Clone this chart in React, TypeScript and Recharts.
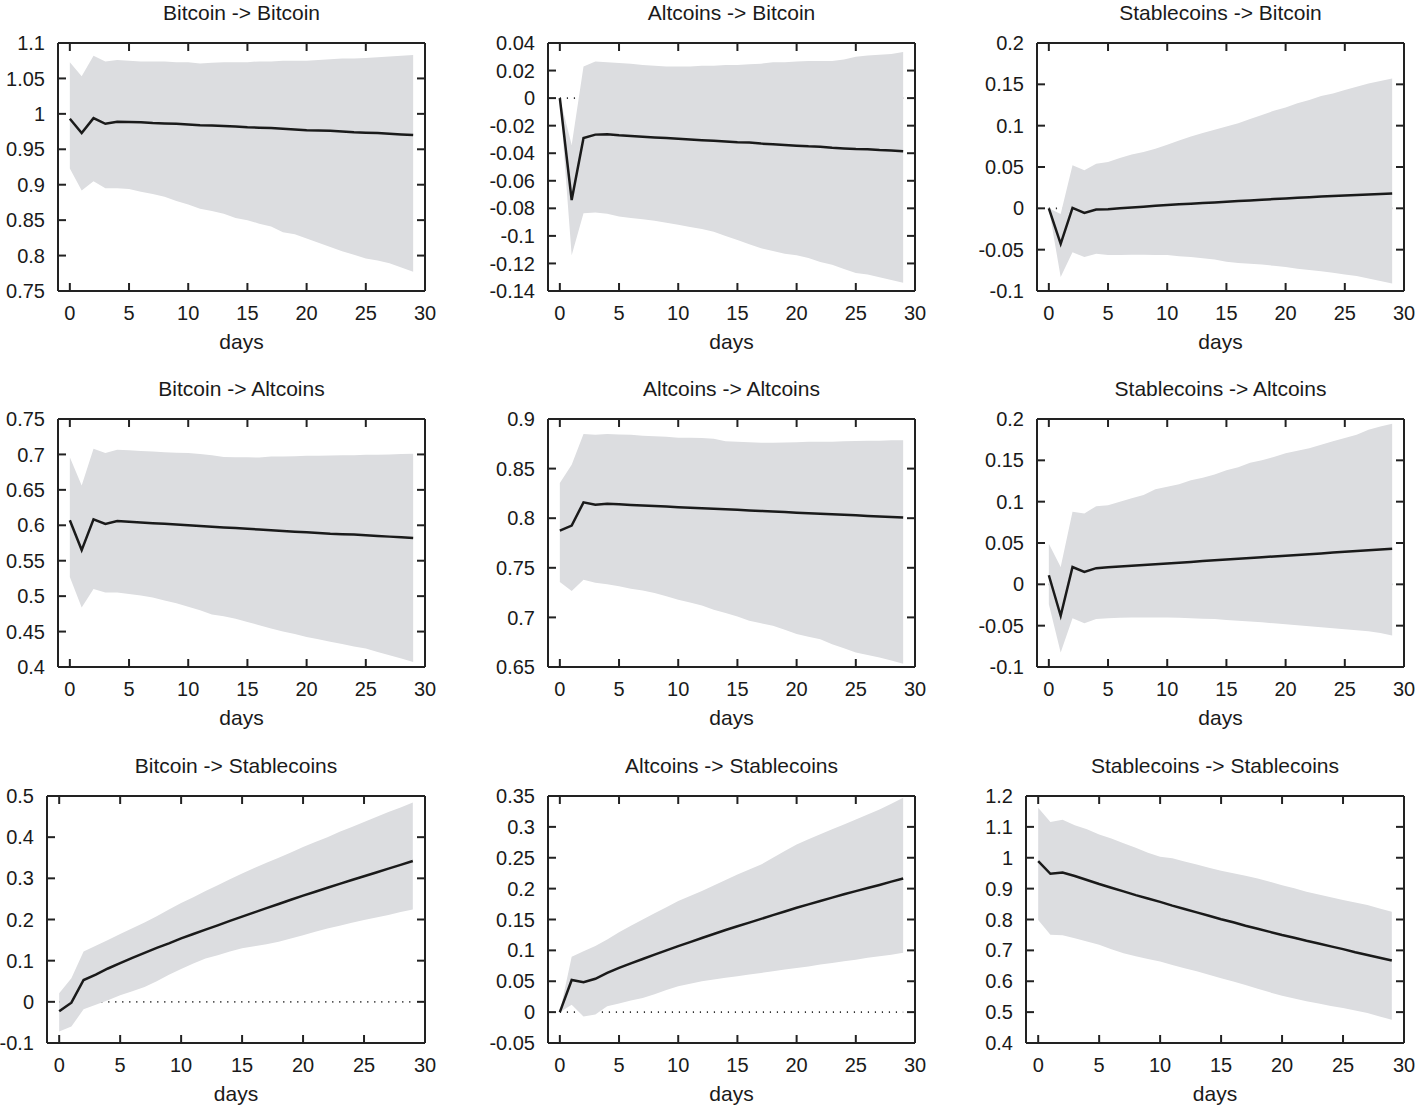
import { Area, ComposedChart, Line, XAxis, YAxis } from "recharts";

const days = [0, 1, 2, 3, 4, 5, 6, 7, 8, 9, 10, 11, 12, 13, 14, 15, 16, 17, 18, 19, 20, 21, 22, 23, 24, 25, 26, 27, 28, 29];
const dayTicks = [0, 5, 10, 15, 20, 25, 30];

// Bitcoin -> Bitcoin
const btcBtcMid = [0.993, 0.973, 0.994, 0.986, 0.989, 0.9885, 0.988, 0.987, 0.9865, 0.986, 0.985, 0.984, 0.9835, 0.983, 0.982, 0.981, 0.9805, 0.98, 0.979, 0.978, 0.977, 0.9765, 0.976, 0.975, 0.974, 0.9735, 0.973, 0.972, 0.971, 0.97];
const btcBtcHi = [1.073, 1.053, 1.082, 1.074, 1.076, 1.075, 1.074, 1.074, 1.074, 1.073, 1.073, 1.071, 1.072, 1.073, 1.073, 1.073, 1.074, 1.074, 1.075, 1.075, 1.075, 1.076, 1.077, 1.078, 1.078, 1.079, 1.08, 1.081, 1.082, 1.083];
const btcBtcLo = [0.923, 0.892, 0.905, 0.895, 0.895, 0.894, 0.89, 0.887, 0.883, 0.877, 0.872, 0.866, 0.863, 0.859, 0.853, 0.85, 0.845, 0.841, 0.833, 0.83, 0.824, 0.818, 0.812, 0.806, 0.801, 0.796, 0.793, 0.789, 0.783, 0.777];
const btcBtcTicks = [0.75, 0.8, 0.85, 0.9, 0.95, 1, 1.05, 1.1];

// Altcoins -> Bitcoin
const altBtcMid = [0, -0.074, -0.029, -0.0265, -0.0263, -0.027, -0.0275, -0.028, -0.0285, -0.029, -0.0295, -0.03, -0.0305, -0.031, -0.0315, -0.032, -0.0323, -0.033, -0.0335, -0.034, -0.0345, -0.035, -0.0353, -0.036, -0.0365, -0.037, -0.0372, -0.0377, -0.038, -0.0385];
const altBtcHi = [0, -0.034, 0.023, 0.0265, 0.026, 0.0255, 0.025, 0.024, 0.0235, 0.023, 0.023, 0.023, 0.0235, 0.0235, 0.024, 0.024, 0.0245, 0.025, 0.026, 0.026, 0.0265, 0.027, 0.027, 0.027, 0.028, 0.03, 0.031, 0.0315, 0.032, 0.0335];
const altBtcLo = [0, -0.114, -0.0835, -0.083, -0.084, -0.086, -0.087, -0.088, -0.089, -0.0905, -0.092, -0.0935, -0.095, -0.097, -0.1, -0.103, -0.106, -0.109, -0.111, -0.113, -0.114, -0.116, -0.119, -0.121, -0.124, -0.127, -0.128, -0.13, -0.132, -0.134];
const altBtcTicks = [-0.14, -0.12, -0.1, -0.08, -0.06, -0.04, -0.02, 0, 0.02, 0.04];

// Stablecoins -> Bitcoin
const stbBtcMid = [0, -0.043, 0.0005, -0.0055, -0.0015, -0.001, 0, 0.001, 0.002, 0.003, 0.004, 0.0048, 0.0056, 0.0064, 0.0072, 0.008, 0.0088, 0.0096, 0.0104, 0.0112, 0.012, 0.0128, 0.0135, 0.0142, 0.0149, 0.0156, 0.0162, 0.0168, 0.0174, 0.018];
const stbBtcHi = [0, -0.007, 0.052, 0.046, 0.054, 0.056, 0.061, 0.065, 0.068, 0.072, 0.077, 0.082, 0.087, 0.091, 0.095, 0.099, 0.103, 0.108, 0.113, 0.118, 0.122, 0.127, 0.131, 0.136, 0.139, 0.143, 0.147, 0.151, 0.154, 0.157];
const stbBtcLo = [0, -0.083, -0.053, -0.059, -0.055, -0.0565, -0.0565, -0.056, -0.056, -0.0565, -0.0565, -0.058, -0.059, -0.0605, -0.062, -0.0645, -0.066, -0.067, -0.068, -0.0695, -0.071, -0.073, -0.0745, -0.076, -0.078, -0.08, -0.082, -0.085, -0.088, -0.091];
const stbBtcTicks = [-0.1, -0.05, 0, 0.05, 0.1, 0.15, 0.2];

// Bitcoin -> Altcoins
const btcAltMid = [0.607, 0.565, 0.6085, 0.602, 0.606, 0.605, 0.604, 0.603, 0.602, 0.601, 0.6, 0.599, 0.598, 0.597, 0.596, 0.595, 0.594, 0.593, 0.592, 0.591, 0.59, 0.589, 0.588, 0.5875, 0.587, 0.586, 0.585, 0.584, 0.583, 0.582];
const btcAltHi = [0.696, 0.656, 0.708, 0.702, 0.7065, 0.706, 0.705, 0.704, 0.703, 0.7025, 0.702, 0.7005, 0.699, 0.6965, 0.696, 0.696, 0.6955, 0.697, 0.697, 0.6975, 0.698, 0.698, 0.6985, 0.699, 0.699, 0.6995, 0.6995, 0.7, 0.7005, 0.701];
const btcAltLo = [0.527, 0.484, 0.51, 0.505, 0.505, 0.503, 0.501, 0.498, 0.494, 0.49, 0.485, 0.48, 0.474, 0.4715, 0.468, 0.4635, 0.459, 0.4545, 0.45, 0.4465, 0.4425, 0.439, 0.4355, 0.4325, 0.429, 0.426, 0.421, 0.4165, 0.412, 0.407];
const btcAltTicks = [0.4, 0.45, 0.5, 0.55, 0.6, 0.65, 0.7, 0.75];

// Altcoins -> Altcoins
const altAltMid = [0.7875, 0.7925, 0.816, 0.8135, 0.8145, 0.814, 0.8134, 0.8128, 0.8122, 0.8117, 0.8111, 0.8106, 0.81, 0.8095, 0.8089, 0.8084, 0.8078, 0.8073, 0.8067, 0.8062, 0.8056, 0.8051, 0.8045, 0.804, 0.8034, 0.8029, 0.8023, 0.8018, 0.8012, 0.8007];
const altAltHi = [0.8355, 0.854, 0.885, 0.884, 0.885, 0.8845, 0.884, 0.883, 0.8825, 0.882, 0.881, 0.8812, 0.8808, 0.88, 0.8775, 0.877, 0.8765, 0.876, 0.876, 0.8762, 0.8765, 0.877, 0.877, 0.877, 0.8775, 0.8777, 0.878, 0.878, 0.8785, 0.8787];
const altAltLo = [0.7357, 0.7266, 0.738, 0.735, 0.7333, 0.7313, 0.729, 0.727, 0.7245, 0.7213, 0.7177, 0.715, 0.712, 0.7076, 0.7045, 0.701, 0.6967, 0.694, 0.6917, 0.6875, 0.6832, 0.6805, 0.678, 0.673, 0.6688, 0.6646, 0.662, 0.6595, 0.6565, 0.6534];
const altAltTicks = [0.65, 0.7, 0.75, 0.8, 0.85, 0.9];

// Stablecoins -> Altcoins
const stbAltMid = [0.011, -0.038, 0.021, 0.015, 0.0196, 0.0206, 0.0215, 0.0224, 0.0234, 0.0243, 0.0253, 0.0262, 0.0271, 0.0281, 0.029, 0.03, 0.0309, 0.0318, 0.0328, 0.0337, 0.0346, 0.0356, 0.0365, 0.0374, 0.0384, 0.0393, 0.0402, 0.0412, 0.0421, 0.0431];
const stbAltHi = [0.049, 0.021, 0.0877, 0.0857, 0.0946, 0.0958, 0.0999, 0.104, 0.108, 0.115, 0.118, 0.121, 0.126, 0.129, 0.133, 0.138, 0.1416, 0.147, 0.15, 0.154, 0.1587, 0.1615, 0.1647, 0.169, 0.173, 0.177, 0.181, 0.187, 0.191, 0.1943];
const stbAltLo = [-0.024, -0.0825, -0.041, -0.047, -0.042, -0.041, -0.0405, -0.04, -0.04, -0.04, -0.04, -0.0405, -0.041, -0.0415, -0.042, -0.043, -0.044, -0.045, -0.046, -0.0472, -0.0484, -0.0496, -0.0508, -0.052, -0.0532, -0.0544, -0.0556, -0.0568, -0.059, -0.062];
const stbAltTicks = [-0.1, -0.05, 0, 0.05, 0.1, 0.15, 0.2];

// Bitcoin -> Stablecoins
const btcStbMid = [-0.023, -0.002, 0.053, 0.066, 0.081, 0.094, 0.107, 0.119, 0.131, 0.142, 0.154, 0.1647, 0.1753, 0.1859, 0.1965, 0.207, 0.2173, 0.2275, 0.2377, 0.2479, 0.258, 0.2675, 0.277, 0.2865, 0.296, 0.305, 0.3143, 0.3235, 0.3328, 0.342];
const btcStbHi = [0.021, 0.057, 0.122, 0.136, 0.15, 0.165, 0.179, 0.193, 0.208, 0.224, 0.24, 0.254, 0.269, 0.283, 0.298, 0.312, 0.325, 0.338, 0.35, 0.363, 0.376, 0.388, 0.4, 0.413, 0.425, 0.437, 0.449, 0.461, 0.472, 0.484];
const btcStbLo = [-0.072, -0.06, -0.018, -0.007, 0.004, 0.016, 0.026, 0.036, 0.05, 0.066, 0.08, 0.093, 0.105, 0.113, 0.122, 0.13, 0.135, 0.14, 0.146, 0.154, 0.162, 0.17, 0.178, 0.185, 0.192, 0.199, 0.205, 0.211, 0.218, 0.2245];
const btcStbTicks = [-0.1, 0, 0.1, 0.2, 0.3, 0.4, 0.5];

// Altcoins -> Stablecoins
const altStbMid = [0, 0.052, 0.0485, 0.054, 0.0635, 0.0716, 0.079, 0.086, 0.093, 0.1, 0.1068, 0.1134, 0.12, 0.1265, 0.133, 0.139, 0.145, 0.151, 0.157, 0.163, 0.169, 0.1745, 0.18, 0.1855, 0.191, 0.196, 0.201, 0.206, 0.2113, 0.2165];
const altStbHi = [0, 0.0895, 0.0985, 0.107, 0.1175, 0.1295, 0.14, 0.15, 0.16, 0.17, 0.18, 0.188, 0.196, 0.205, 0.214, 0.223, 0.231, 0.239, 0.25, 0.261, 0.2716, 0.28, 0.288, 0.296, 0.304, 0.312, 0.32, 0.328, 0.3375, 0.347];
const altStbLo = [0, 0.012, -0.007, -0.004, 0.0095, 0.014, 0.019, 0.023, 0.029, 0.036, 0.042, 0.046, 0.05, 0.053, 0.0555, 0.058, 0.061, 0.0635, 0.066, 0.069, 0.0716, 0.074, 0.077, 0.0797, 0.0823, 0.085, 0.088, 0.0905, 0.093, 0.096];
const altStbTicks = [-0.05, 0, 0.05, 0.1, 0.15, 0.2, 0.25, 0.3, 0.35];

// Stablecoins -> Stablecoins
const stbStbMid = [0.989, 0.948, 0.952, 0.941, 0.928, 0.915, 0.903, 0.891, 0.879, 0.868, 0.857, 0.845, 0.834, 0.823, 0.812, 0.801, 0.791, 0.78, 0.77, 0.76, 0.75, 0.741, 0.731, 0.722, 0.713, 0.704, 0.694, 0.685, 0.676, 0.667];
const stbStbHi = [1.162, 1.116, 1.123, 1.105, 1.092, 1.075, 1.062, 1.047, 1.032, 1.016, 1.003, 0.998, 0.988, 0.978, 0.968, 0.958, 0.95, 0.942, 0.933, 0.922, 0.911, 0.901, 0.89, 0.881, 0.872, 0.863, 0.855, 0.847, 0.836, 0.825];
const stbStbLo = [0.798, 0.751, 0.749, 0.739, 0.729, 0.718, 0.704, 0.691, 0.681, 0.672, 0.664, 0.653, 0.642, 0.632, 0.621, 0.61, 0.599, 0.588, 0.576, 0.564, 0.553, 0.544, 0.535, 0.528, 0.52, 0.513, 0.505, 0.497, 0.486, 0.475];
const stbStbTicks = [0.4, 0.5, 0.6, 0.7, 0.8, 0.9, 1, 1.1, 1.2];

const ink = "#222";
const textInk = "#1a1a1a";
const bandGrey = "#dcdde0";
const font = '"Liberation Sans", Arial, Helvetica, sans-serif';

const fmt = (v: number) => String(Number(v.toFixed(2)));
const noTick = () => <g />;

function Panel({ title, mid, lo, hi, yTicks, zero, left, right, top, bottom }) {
    const data = days.map((d, i) => ({ x: d, mid: mid[i], band: [lo[i], hi[i]] }));
    const padL = 60, padT = 45, padR = 25, padB = 70;
    const w = right - left;
    const h = bottom - top;
    const yDomain = [yTicks[0], yTicks[yTicks.length - 1]];
    const axisLine = { stroke: ink, strokeWidth: 2 };
    const tickLine = { stroke: ink, strokeWidth: 2 };
    const tickStyle = { fill: textInk, fontSize: 20, fontFamily: font };
    const labelStyle = { fill: textInk, fontSize: 21, fontFamily: font };

    return (
        <div style={{ position: "absolute", left: left - padL, top: top - padT }}>
            <ComposedChart width={w + padL + padR} height={h + padT + padB} data={data}
                           margin={{ top: padT - 1, right: padR - 1, left: 0, bottom: 0 }}>
                <XAxis xAxisId="b" dataKey="x" type="number" domain={[-1, 30]} ticks={dayTicks} interval={0}
                       allowDataOverflow height={padB} tickSize={-8} tickMargin={23}
                       axisLine={axisLine} tickLine={tickLine} tick={tickStyle}
                       label={{ value: "days", position: "insideBottom", offset: 12, ...labelStyle }}/>
                <XAxis xAxisId="t" orientation="top" dataKey="x" type="number" domain={[-1, 30]} ticks={dayTicks}
                       interval={0} allowDataOverflow height={1} tickSize={-8} tick={noTick}
                       axisLine={axisLine} tickLine={tickLine}
                       label={{ value: title, position: "top", offset: 22, ...labelStyle }}/>
                <YAxis yAxisId="l" type="number" domain={yDomain} ticks={yTicks} interval={0} allowDataOverflow
                       width={padL} tickSize={-8} tickMargin={21} tickFormatter={fmt}
                       axisLine={axisLine} tickLine={tickLine} tick={tickStyle}/>
                <YAxis yAxisId="r" orientation="right" type="number" domain={yDomain} ticks={yTicks} interval={0}
                       allowDataOverflow width={1} tickSize={-8} tick={noTick}
                       axisLine={axisLine} tickLine={tickLine}/>
                {zero && (
                    <Line xAxisId="b" yAxisId="l" dataKey={() => 0} stroke="#333" strokeWidth={1.8}
                          strokeDasharray="1.2 5.8" dot={false} activeDot={false} zIndex={50}
                          isAnimationActive={false}/>
                )}
                <Area xAxisId="b" yAxisId="l" dataKey="band" stroke="none" fill={bandGrey} fillOpacity={1}
                      activeDot={false} isAnimationActive={false}/>
                <Line xAxisId="b" yAxisId="l" dataKey="mid" stroke="#1a1a1a" strokeWidth={2.5} dot={false}
                      activeDot={false} isAnimationActive={false}/>
            </ComposedChart>
        </div>
    );
}

const panels = [
    { title: "Bitcoin -> Bitcoin", mid: btcBtcMid, lo: btcBtcLo, hi: btcBtcHi, yTicks: btcBtcTicks, zero: false, left: 58, right: 425, top: 43, bottom: 291 },
    { title: "Altcoins -> Bitcoin", mid: altBtcMid, lo: altBtcLo, hi: altBtcHi, yTicks: altBtcTicks, zero: true, left: 548, right: 915, top: 43, bottom: 291 },
    { title: "Stablecoins -> Bitcoin", mid: stbBtcMid, lo: stbBtcLo, hi: stbBtcHi, yTicks: stbBtcTicks, zero: true, left: 1037, right: 1404, top: 43, bottom: 291 },
    { title: "Bitcoin -> Altcoins", mid: btcAltMid, lo: btcAltLo, hi: btcAltHi, yTicks: btcAltTicks, zero: false, left: 58, right: 425, top: 419, bottom: 667 },
    { title: "Altcoins -> Altcoins", mid: altAltMid, lo: altAltLo, hi: altAltHi, yTicks: altAltTicks, zero: false, left: 548, right: 915, top: 419, bottom: 667 },
    { title: "Stablecoins -> Altcoins", mid: stbAltMid, lo: stbAltLo, hi: stbAltHi, yTicks: stbAltTicks, zero: true, left: 1037, right: 1404, top: 419, bottom: 667 },
    { title: "Bitcoin -> Stablecoins", mid: btcStbMid, lo: btcStbLo, hi: btcStbHi, yTicks: btcStbTicks, zero: true, left: 47, right: 425, top: 796, bottom: 1043 },
    { title: "Altcoins -> Stablecoins", mid: altStbMid, lo: altStbLo, hi: altStbHi, yTicks: altStbTicks, zero: true, left: 548, right: 915, top: 796, bottom: 1043 },
    { title: "Stablecoins -> Stablecoins", mid: stbStbMid, lo: stbStbLo, hi: stbStbHi, yTicks: stbStbTicks, zero: false, left: 1026, right: 1404, top: 796, bottom: 1043 },
];

export default function App() {
    return (
        <div style={{ position: "absolute", left: 0, top: 0, width: 1424, height: 1108, background: "#fff", fontFamily: font }}>
            {panels.map((p) => <Panel key={p.title} {...p}/>)}
        </div>
    );
}
